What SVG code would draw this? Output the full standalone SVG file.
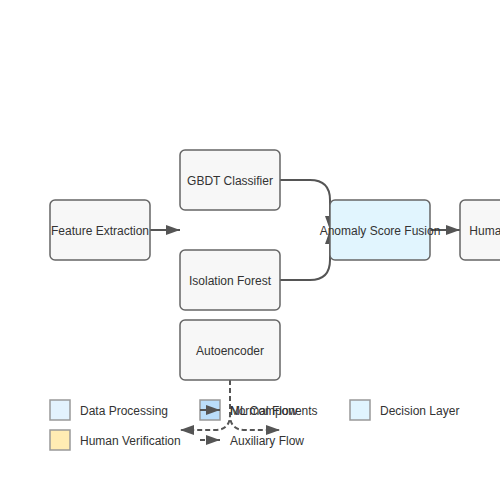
<svg xmlns="http://www.w3.org/2000/svg" width="500" height="500" viewBox="0 0 500 500">
<style>
.node rect{fill:#f7f7f7;stroke:#666;stroke-width:1.5}
.node.decision rect{fill:#e1f5fe}
text{font-family:"Liberation Sans",Arial,sans-serif;font-size:12px;fill:#333}
.node text{text-anchor:middle}
.edge{fill:none;stroke:#555;stroke-width:2}
.dash{stroke-dasharray:5,3}
.sw{stroke:#999;stroke-width:1.5}
</style>
<defs>
<marker id="arr" markerUnits="userSpaceOnUse" markerWidth="14" markerHeight="10" refX="14" refY="5" orient="auto">
<path d="M0,0 L14,5 L0,10 z" fill="#555"/>
</marker>
</defs>
<rect width="500" height="500" fill="#fff"/>
<g id="connectors">
<path class="edge" d="M150,230 L180,230" marker-end="url(#arr)"/>
<path class="edge" d="M280,180 L310,180 Q330,180 330,200 L330,230" marker-end="url(#arr)"/>
<path class="edge" d="M280,280 L310,280 Q330,280 330,260 L330,230" marker-end="url(#arr)"/>
<path class="edge" d="M430,230 L460,230" marker-end="url(#arr)"/>
<path class="edge dash" d="M230,380 L230,415 Q230,430 215,430 L180,430" marker-end="url(#arr)"/>
<path class="edge dash" d="M230,380 L230,415 Q230,430 245,430 L280,430" marker-end="url(#arr)"/>
</g>
<g id="feature-extraction" class="node"><rect x="50" y="200" width="100" height="60" rx="5"/><text x="100" y="235">Feature Extraction</text></g>
<g id="gbdt" class="node"><rect x="180" y="150" width="100" height="60" rx="5"/><text x="230" y="185">GBDT Classifier</text></g>
<g id="isolation-forest" class="node"><rect x="180" y="250" width="100" height="60" rx="5"/><text x="230" y="285">Isolation Forest</text></g>
<g id="autoencoder" class="node"><rect x="180" y="320" width="100" height="60" rx="5"/><text x="230" y="355">Autoencoder</text></g>
<g id="fusion" class="node decision"><rect x="330" y="200" width="100" height="60" rx="5"/><text x="380" y="235">Anomaly Score Fusion</text></g>
<g id="human" class="node"><rect x="460" y="200" width="100" height="60" rx="5"/><text x="510" y="235">Human Review</text></g>
<g id="legend">
<rect class="sw" x="50" y="400" width="20" height="20" fill="#e3f2fd"/><text x="80" y="415">Data Processing</text>
<rect class="sw" x="200" y="400" width="20" height="20" fill="#bbdefb"/><text x="230" y="415">ML Components</text>
<rect class="sw" x="350" y="400" width="20" height="20" fill="#e1f5fe"/><text x="380" y="415">Decision Layer</text>
<rect class="sw" x="50" y="430" width="20" height="20" fill="#ffecb3"/><text x="80" y="445">Human Verification</text>
<path class="edge" d="M200,410 L220,410" marker-end="url(#arr)"/><text x="230" y="415">Normal Flow</text>
<path class="edge dash" d="M200,440 L220,440" marker-end="url(#arr)"/><text x="230" y="445">Auxiliary Flow</text>
</g>
</svg>
